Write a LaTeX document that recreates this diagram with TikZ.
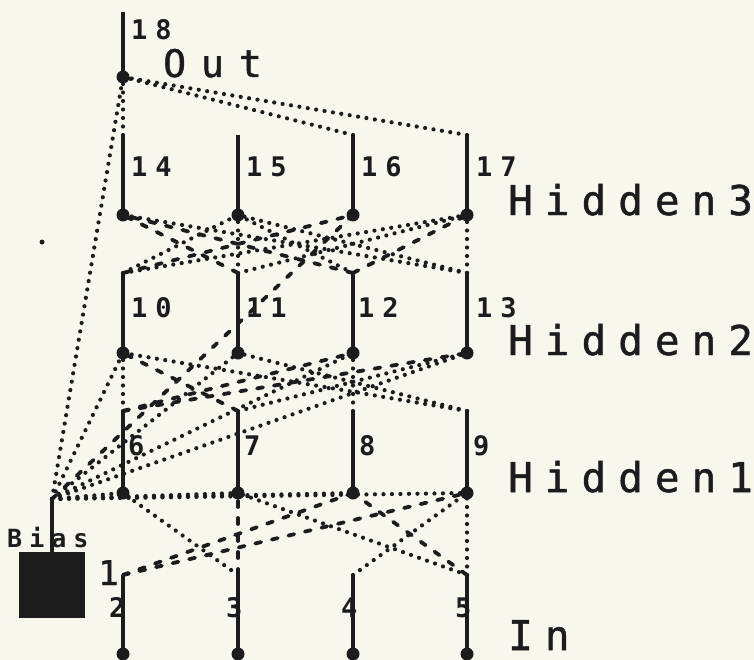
\documentclass[tikz,border=0pt]{standalone}
\usepackage{fontspec}
\setmonofont{DejaVu Sans Mono}
\newfontfamily\plotfont[FakeBold=1.2]{DejaVu Sans Mono}
\definecolor{paper}{HTML}{F8F7EE}
\definecolor{ink}{HTML}{1C1C1C}
% letter-spaced text: \spaced{kern}{characters}
\makeatletter
\newcommand\spaced[2]{\def\sp@g{#1}%
  \@tfor\sp@c:=#2\do{\sp@c\kern\sp@g}\kern-\sp@g}
\makeatother
\begin{document}
\begin{tikzpicture}[x=1pt,y=-1pt,
  unitline/.style={draw=ink,line width=3.6pt},
  unitdot/.style={circle,fill=ink,inner sep=0pt,minimum size=13pt},
  poswt/.style={draw=ink,line width=4.2pt,line cap=round,dash pattern=on 0pt off 8.5pt},
  negwt/.style={draw=ink,line width=3.8pt,line cap=round,dash pattern=on 6pt off 11pt},
  numlbl/.style={font=\ttfamily\bfseries\fontsize{27}{27}\selectfont,text=ink,inner sep=0pt,anchor=base west},
  laylbl/.style={font=\plotfont\fontsize{41}{41}\selectfont,text=ink,inner sep=0pt,anchor=base west}]

\fill[paper] (0,0) rectangle (754,660);
\useasboundingbox (0,0) rectangle (754,660);

% ---- units: top end (t) and input dot (d) ----
\coordinate (t18) at (123,12);  \node[unitdot] (d18) at (123,77) {};
\foreach \n/\x in {14/123,15/238,16/353,17/467}{
  \coordinate (t\n) at (\x,135); \node[unitdot] (d\n) at (\x,215) {};}
\foreach \n/\x in {10/123,11/238,12/353,13/467}{
  \coordinate (t\n) at (\x,273); \node[unitdot] (d\n) at (\x,353) {};}
\foreach \n/\x in {6/123,7/238,8/353,9/467}{
  \coordinate (t\n) at (\x,411); \node[unitdot] (d\n) at (\x,493) {};}
\foreach \n/\x in {2/123,3/238,4/353,5/467}{
  \coordinate (t\n) at (\x,575); \node[unitdot] (d\n) at (\x,654) {};}
\coordinate (tb) at (52,499);
\coordinate (bb) at (52,552);

% ---- weighted connections (dotted / dashed) ----
% hidden3 -> out
\foreach \a in {14,16,17}{\draw[poswt] (t\a) -- (d18.center);}
\draw[poswt] (tb) -- (d18.center);
% hidden2 -> hidden3
\foreach \a/\b in {10/15,10/17,11/15,11/17,12/15,13/14,13/15,13/17}{\draw[poswt] (t\a) -- (d\b.center);}
\foreach \a/\b in {10/16,11/14,12/14,12/17}{\draw[negwt] (t\a) -- (d\b.center);}
\draw[negwt] (tb) -- (d16.center);
% hidden1 -> hidden2
\foreach \a/\b in {6/10,7/13,8/12,9/10,9/11}{\draw[poswt] (t\a) -- (d\b.center);}
\foreach \a/\b in {6/12,6/13,7/10}{\draw[negwt] (t\a) -- (d\b.center);}
\foreach \b in {10,11,12,13}{\draw[poswt] (tb) -- (d\b.center);}
% in -> hidden1
\foreach \a/\b in {3/6,4/9,5/7,5/9}{\draw[poswt] (t\a) -- (d\b.center);}
\foreach \a/\b in {2/8,2/9,3/7,5/8}{\draw[negwt] (t\a) -- (d\b.center);}
\foreach \b in {6,7,8,9}{\draw[poswt] (tb) -- (d\b.center);}

% ---- unit lines ----
\foreach \n in {18,14,15,16,17,10,11,12,13,6,7,8,9,2,3,4,5}{
  \draw[unitline] (t\n) -- (d\n.center);}
\draw[unitline] (tb) -- (bb);
\node[fill=ink,inner sep=0pt,minimum width=66pt,minimum height=66pt,anchor=north] (biasbox) at (bb) {};
\fill[ink] (42,242) circle (2.5pt);

% ---- labels ----
\node[numlbl] (l18) at (131,40) {\spaced{8pt}{18}};
\node[laylbl,font=\plotfont\fontsize{38}{38}\selectfont] (lout) at (163,77) {\spaced{15pt}{Out}};
\node[numlbl] (l14) at (131,177) {\spaced{8pt}{14}};
\node[numlbl] (l15) at (246,177) {\spaced{8pt}{15}};
\node[numlbl] (l16) at (361,177) {\spaced{8pt}{16}};
\node[numlbl] (l17) at (476,177) {\spaced{8pt}{17}};
\node[laylbl] (lh3) at (508,215) {\spaced{12pt}{Hidden3}};
\node[numlbl] (l10) at (131,317) {\spaced{8pt}{10}};
\node[numlbl] (l11) at (246,317) {\spaced{8pt}{11}};
\node[numlbl] (l12) at (358,317) {\spaced{8pt}{12}};
\node[numlbl] (l13) at (476,317) {\spaced{8pt}{13}};
\node[laylbl] (lh2) at (508,355) {\spaced{12pt}{Hidden2}};
\node[numlbl] (l6) at (128,455) {6};
\node[numlbl] (l7) at (244,455) {7};
\node[numlbl] (l8) at (359,455) {8};
\node[numlbl] (l9) at (473,455) {9};
\node[laylbl] (lh1) at (508,492) {\spaced{12pt}{Hidden1}};
\node[numlbl] (l2) at (109,617) {2};
\node[numlbl] (l3) at (226,617) {3};
\node[numlbl] (l4) at (341,617) {4};
\node[numlbl] (l5) at (455,617) {5};
\node[laylbl] (lin) at (508,650) {\spaced{12pt}{In}};
\node[laylbl,font=\plotfont\fontsize{34}{34}\selectfont] (l1) at (98,585) {1};
\node[numlbl,font=\ttfamily\bfseries\fontsize{25}{25}\selectfont] (lbias) at (7,547) {\spaced{7pt}{Bias}};
\end{tikzpicture}
\end{document}
